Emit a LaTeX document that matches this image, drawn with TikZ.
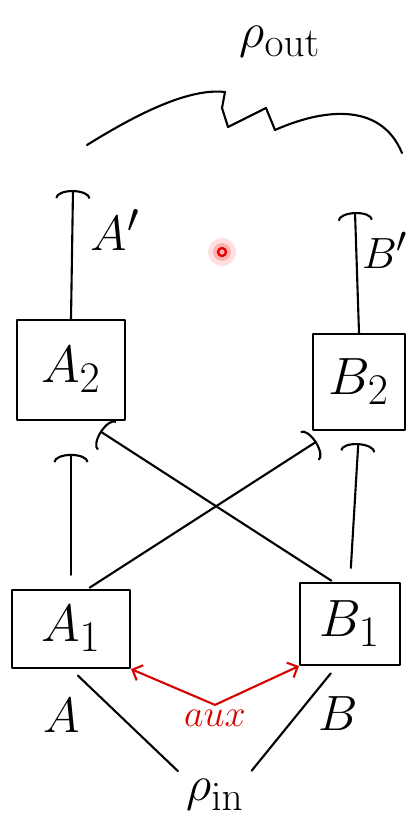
\documentclass[tikz,border=0pt]{standalone}
\usepackage{graphicx}
\usetikzlibrary{arrows.meta}
\newcommand{\hand}[2][1.7]{\scalebox{#1}{\Huge #2}}
\begin{document}
\begin{tikzpicture}[x=0.03cm,y=-0.03cm,
    line width=1.8pt,line cap=round,line join=round,
    box/.style={draw,inner sep=0pt},
    arr/.style={-{Arc Barb[length=7pt,width=30pt]}},
    auxarr/.style={red!85!black,{Straight Barb[length=7pt,width=14pt]}-{Straight Barb[length=7pt,width=14pt]}}]
  \useasboundingbox (0,0) rectangle (407,838);
  % stage 2 and stage 1 boxes
  \node[box,minimum width=3.24cm,minimum height=3cm] (A2) at (71,370) {\hand[1.8]{$A_2$}};
  \node[box,minimum width=2.76cm,minimum height=2.9cm] (B2) at (359,382) {\hand[1.8]{$B_2$}};
  \node[box,minimum width=3.54cm,minimum height=2.34cm] (A1) at (71,629) {\hand[1.8]{$A_1$}};
  \node[box,minimum width=3cm,minimum height=2.46cm] (B1) at (350,624) {\hand[1.8]{$B_1$}};
  % input and output states
  \node (rhoin) at (215,795) {\hand{$\rho_{\mathrm{in}}$}};
  \node (rhoout) at (280,42) {\hand{$\rho_{\mathrm{out}}$}};
  \coordinate (Aout) at (73,190);
  \coordinate (Bout) at (355,212);
  % input split
  \draw[shorten <=4pt,shorten >=8pt] (rhoin.north west) -- (A1.south);
  \draw[shorten <=4pt,shorten >=8pt] (rhoin.north east) -- ([xshift=-0.4cm]B1.south);
  \node (lA) at (62,716) {\hand{$A$}};
  \node (lB) at (338,714) {\hand{$B$}};
  % auxiliary link
  \node[text=red!85!black] (aux) at (215,718) {\hand[1.3]{$aux$}};
  \draw[auxarr] (A1.south east) -- (aux.north) -- (B1.south west);
  % straight and crossed arrows
  \draw[arr,shorten <=12pt,shorten >=28pt] (A1.north) -- (A2.south);
  \draw[arr,shorten <=12pt,shorten >=10pt] (B1.north) -- (B2.south);
  \draw[arr,shorten <=2pt,shorten >=16pt] ([xshift=0.5cm]A1.north) -- ([xshift=-0.8cm]B2.south);
  \draw[arr,shorten <=2pt,shorten >=16pt] ([xshift=-0.5cm]B1.north) -- ([xshift=0.4cm]A2.south);
  % outputs
  \draw[arr] (A2.north) -- (Aout);
  \draw[arr] (B2.north) -- (Bout);
  \node[anchor=west] (lA') at (86,230) {\hand{$A'$}};
  \node[anchor=west,inner sep=1pt] (lB') at (360,250) {\hand[1.5]{$B'$}};
  % joining brace
  \draw (87,145) .. controls (140,112) and (190,88) .. (225,92)
    -- (222,108) -- (228,127) -- (266,108) -- (275,130)
    .. controls (320,110) and (380,100) .. (402,153);
  % pointer dot
  \fill[red!12] (222,252) circle (14);
  \fill[red!30] (222,252) circle (9);
  \draw[red!90!black,line width=2pt] (222,252) circle (4);
\end{tikzpicture}
\end{document}
